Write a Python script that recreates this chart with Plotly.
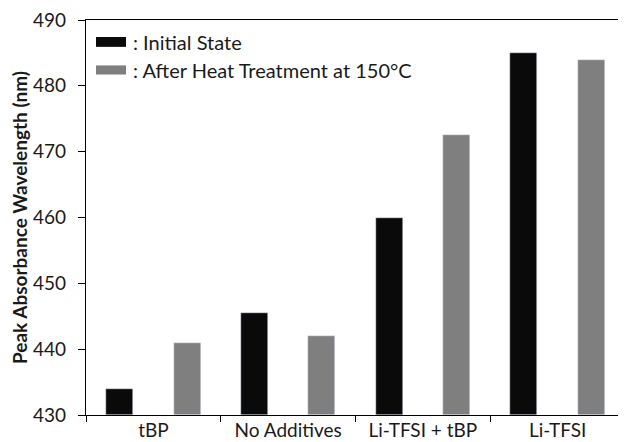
import plotly.graph_objects as go

categories = ["tBP", "No Additives", "Li-TFSI + tBP", "Li-TFSI"]
series_names = [": Initial State", ": After Heat Treatment at 150°C"]
initial_state = [434.0, 445.5, 460.0, 485.0]
after_heat = [441.0, 442.0, 472.5, 484.0]
y_ticks = [430, 440, 450, 460, 470, 480, 490]

colors = ["#0a0a0a", "#7f7f7f"]
FONT = "Lato"

fig = go.Figure()
fig.add_trace(go.Bar(x=categories, y=[v - 430 for v in initial_state], base=430,
                     name=series_names[0], marker=dict(color=colors[0]),
                     width=0.2, offset=-0.35, showlegend=False))
fig.add_trace(go.Bar(x=categories, y=[v - 430 for v in after_heat], base=430,
                     name=series_names[1], marker=dict(color=colors[1]),
                     width=0.2, offset=0.15, showlegend=False))

# custom legend (wide flat swatches)
rows = [(0.957, 0.932, 0.9446), (0.885, 0.862, 0.874)]
for i, (y1, y0, yc) in enumerate(rows):
    fig.add_shape(type="rect", xref="paper", yref="paper",
                  x0=0.0186, x1=0.0742, y0=y0, y1=y1,
                  fillcolor=colors[i], line=dict(width=0))
    fig.add_annotation(xref="paper", yref="paper", x=0.0835, y=yc,
                       xanchor="left", yanchor="middle", showarrow=False,
                       text=series_names[i],
                       font=dict(family=FONT, size=20, color="#1a1a1a"))

# page body has an 8px margin: size/margins compensate so the plot area
# lands at x 86..625, y 20..415 in the window
fig.update_layout(
    width=618, height=434,
    margin=dict(l=78, r=1, t=12, b=27),
    plot_bgcolor="white", paper_bgcolor="white",
    font=dict(family=FONT, size=19, color="#1a1a1a"),
    bargap=0,
)
fig.update_xaxes(
    type="category", tickson="boundaries", ticks="outside", ticklen=6,
    tickcolor="black", tickwidth=1.3,
    showline=True, linecolor="black", linewidth=1.3, mirror=True,
    showgrid=False, tickfont=dict(size=19), ticklabelstandoff=-2,
)
fig.update_yaxes(
    range=[430, 490], tickvals=y_ticks, ticks="outside", ticklen=7,
    tickcolor="black", tickwidth=1.3,
    showline=True, linecolor="black", linewidth=1.3, mirror=True,
    showgrid=False, zeroline=False, tickfont=dict(size=19),
    ticklabelstandoff=8, ticklabeloverflow="allow",
    title=dict(text="<b>Peak Absorbance Wavelength (nm)</b>",
               font=dict(size=19), standoff=4),
)

fig.write_html("out.html")
